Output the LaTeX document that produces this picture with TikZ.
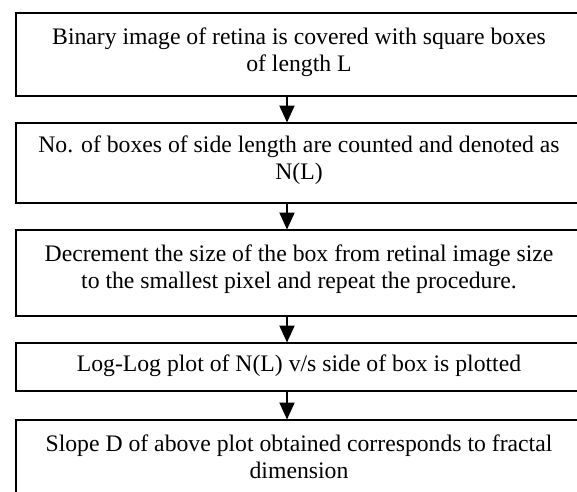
\documentclass[tikz,border=0pt]{standalone}
\usepackage{fontspec}
\setmainfont{Liberation Serif}
\usetikzlibrary{arrows.meta}
\begin{document}
\begin{tikzpicture}[x=1pt,y=-1pt,
  box/.style={draw=black, line width=2pt, minimum width=570pt, anchor=north west, inner sep=0pt},
  txt/.style={align=center, inner sep=0pt, font=\fontsize{23.7}{27}\selectfont},
  arr/.style={line width=2pt, -{Triangle[width=15pt,length=17pt]}, shorten >=-0.5pt}]
\useasboundingbox (0,0) rectangle (577,491);
\clip (0,0) rectangle (577,491);
\coordinate (ax) at (287,0);
\node[box, minimum height=83pt] (b1) at (15,12) {};
\node[box, minimum height=80pt] (b2) at (15,122) {};
\node[box, minimum height=86pt] (b3) at (15,229) {};
\node[box, minimum height=48pt] (b4) at (15,342) {};
\node[box, minimum height=100pt] (b5) at (15,419) {};
\node[txt] (t1) at (299,52) {Binary image of retina is covered with square boxes\\of length L};
\node[txt] (t2) at (299,160) {No. of boxes of side length are counted and denoted as\\N(L)};
\node[txt] (t3) at (299,269) {Decrement the size of the box from retinal image size\\to the smallest pixel and repeat the procedure.};
\node[txt] (t4) at (299,366) {Log-Log plot of N(L) v/s side of box is plotted};
\node[txt] (t5) at (299,457) {Slope D of above plot obtained corresponds to fractal\\dimension};
\draw[arr] (b1.south -| ax) -- (b2.north -| ax);
\draw[arr] (b2.south -| ax) -- (b3.north -| ax);
\draw[arr] (b3.south -| ax) -- (b4.north -| ax);
\draw[arr] (b4.south -| ax) -- (b5.north -| ax);
\end{tikzpicture}
\end{document}
